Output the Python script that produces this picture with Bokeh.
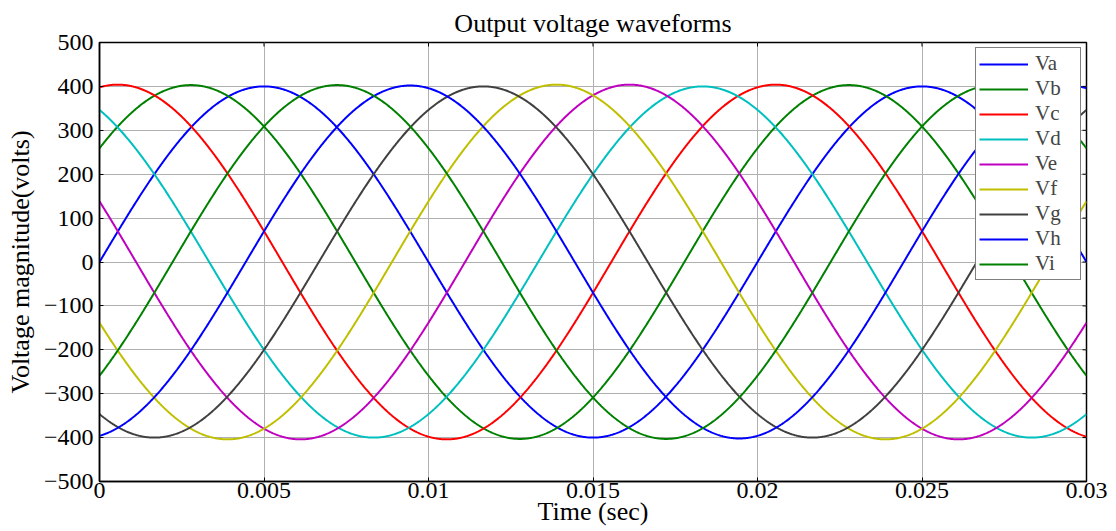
import numpy as np
from bokeh.plotting import figure
from bokeh.models import FixedTicker, Legend, LegendItem, Range1d, Title
from bokeh.embed import file_html
from bokeh.resources import INLINE

# ---- data ----
phase_names = ["Va", "Vb", "Vc", "Vd", "Ve", "Vf", "Vg", "Vh", "Vi"]
amplitude_volts = [400, 403, 404, 400, 404, 404, 400, 402, 403]
phase_shift_deg = [0, 40, 80, 120, 160, 200, 240, 280, 320]
frequency_hz = 50
time_start_sec = 0.0
time_end_sec = 0.03
x_ticks = [0, 0.005, 0.01, 0.015, 0.02, 0.025, 0.03]
x_tick_labels = ["0", "0.005", "0.01", "0.015", "0.02", "0.025", "0.03"]
y_ticks = [-500, -400, -300, -200, -100, 0, 100, 200, 300, 400, 500]

colors = ["#0000ff", "#008000", "#ff0000", "#00bfbf", "#bf00bf",
          "#bfbf00", "#404040", "#0000ff", "#008000"]

FONT = "Liberation Serif"
X0, X1, Y0, Y1 = 0.0, 0.03, -500, 500

t = np.linspace(time_start_sec, time_end_sec, 1501)

W, H = 1110, 528
BL, BR, BT, BB = 99, 24, 42, 47
p = figure(width=W, height=H, output_backend="svg", toolbar_location=None,
           x_range=Range1d(X0, X1), y_range=Range1d(Y0, Y1),
           min_border_left=BL, min_border_right=BR, min_border_top=BT,
           min_border_bottom=BB)
p.title = Title(text="Output voltage waveforms", align="center",
                text_font=FONT, text_font_size="26px", text_font_style="normal",
                text_color="black", offset=0, standoff=10)
p.outline_line_color = "black"
p.outline_line_width = 1.5

items = []
for name, amp, ph, c in zip(phase_names, amplitude_volts, phase_shift_deg, colors):
    v = amp * np.sin(2 * np.pi * frequency_hz * t + np.deg2rad(ph))
    r = p.line(t, v, line_color=c, line_width=2)
    items.append(LegendItem(label=name, renderers=[r]))

for ax in (p.xaxis[0], p.yaxis[0]):
    ax.axis_line_color = "black"
    ax.axis_line_width = 1.5
    ax.major_tick_in = 4
    ax.major_tick_out = 0
    ax.minor_tick_line_color = None
    ax.major_label_text_font = FONT
    ax.major_label_text_font_size = "24px"
    ax.major_label_text_color = "black"
    ax.axis_label_text_font = FONT
    ax.axis_label_text_font_size = "26px"
    ax.axis_label_text_font_style = "normal"
    ax.axis_label_text_color = "black"

p.xaxis.ticker = FixedTicker(ticks=x_ticks)
p.xaxis.major_label_overrides = {k: v for k, v in zip(x_ticks, x_tick_labels)}
p.xaxis.major_label_standoff = 1
p.xaxis.axis_label = "Time (sec)"
p.xaxis.axis_label_standoff = -4
p.yaxis.ticker = FixedTicker(ticks=y_ticks)
p.yaxis.major_label_standoff = 6
p.yaxis.axis_label = "Voltage magnitude(volts)"
p.yaxis.axis_label_standoff = 6

# mirrored inward ticks on the top and right edges (4 px long)
plot_w = W - BL - BR
plot_h = H - BT - BB
dy = 4 * (Y1 - Y0) / plot_h
dx = 4 * (X1 - X0) / plot_w
p.segment(x0=x_ticks, y0=[Y1] * len(x_ticks), x1=x_ticks, y1=[Y1 - dy] * len(x_ticks),
          line_color="black", line_width=1)
p.segment(x0=[X1] * len(y_ticks), y0=y_ticks, x1=[X1 - dx] * len(y_ticks), y1=y_ticks,
          line_color="black", line_width=1)

p.xgrid.ticker = FixedTicker(ticks=x_ticks)
p.ygrid.ticker = FixedTicker(ticks=y_ticks)
p.grid.grid_line_color = "#b0b0b0"
p.grid.grid_line_width = 1

legend = Legend(items=items, location="top_right", margin=5,
                border_line_color="black", border_line_width=1.5,
                label_text_font=FONT, label_text_font_size="21px",
                glyph_width=49, glyph_height=20, label_height=20,
                label_width=42, label_standoff=7, spacing=0, padding=3,
                background_fill_alpha=1.0)
p.add_layout(legend)

open("out.html", "w").write(file_html(p, INLINE))
